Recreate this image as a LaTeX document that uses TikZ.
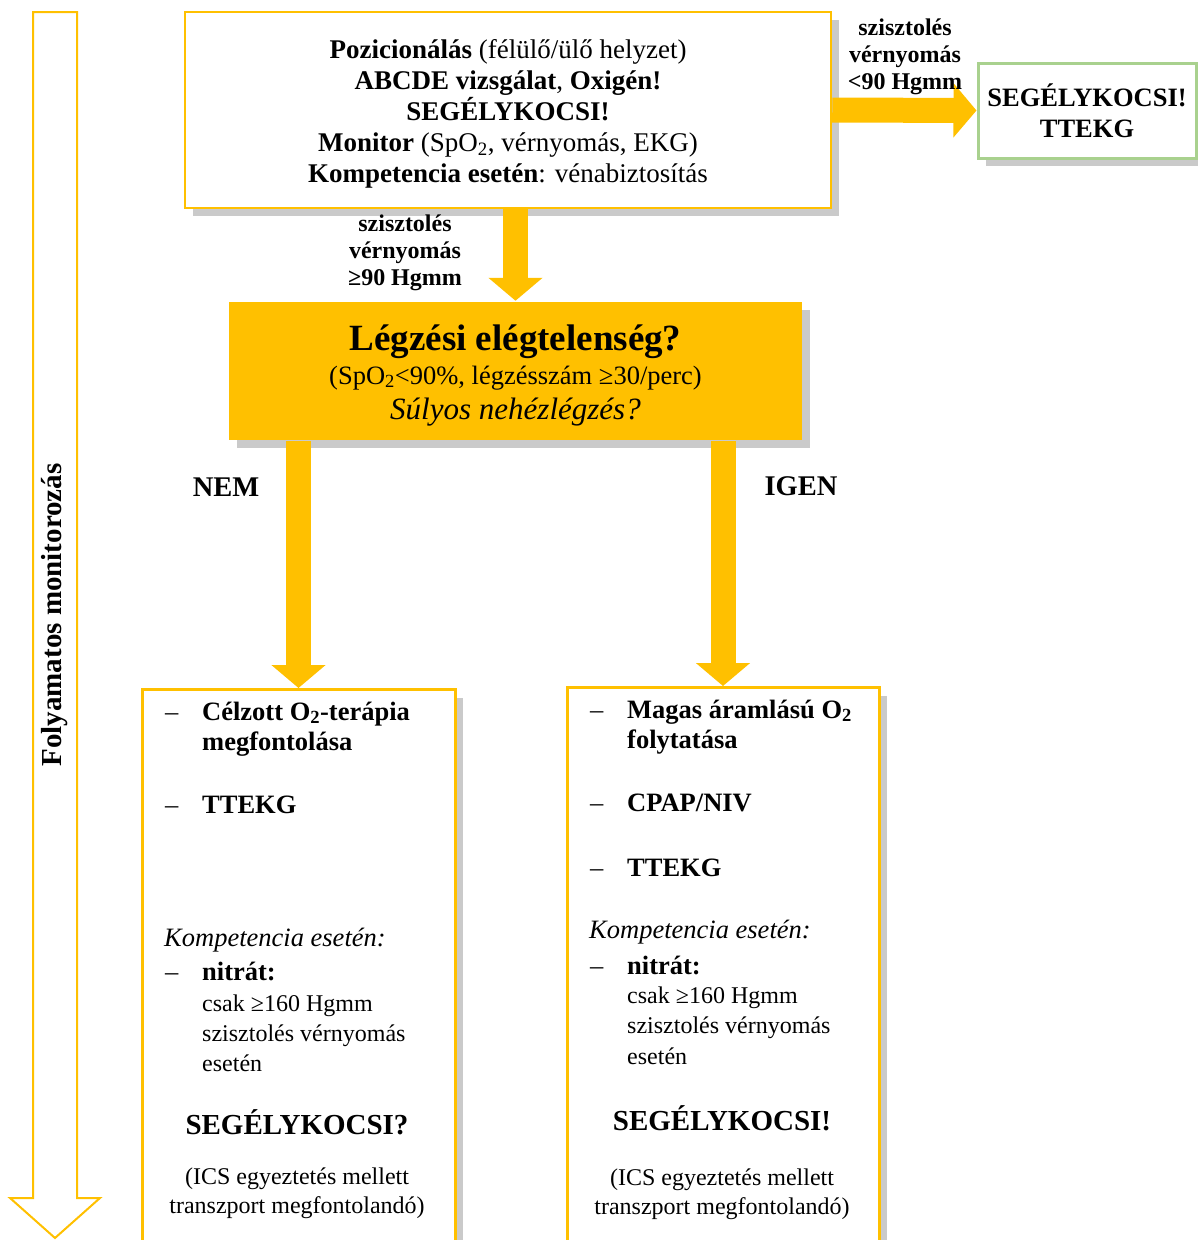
\documentclass[tikz,border=0pt]{standalone}
\usepackage{fontspec}
\setmainfont{Liberation Serif}
\usetikzlibrary{arrows.meta,positioning,shadows,calc}

\definecolor{sarga}{HTML}{FFC000}
\definecolor{zold}{HTML}{A9D18E}
\newcommand{\fs}[2]{\fontsize{#1}{#2}\selectfont}

\begin{document}
\begin{tikzpicture}[x=1pt,y=-1pt,
    doboz/.style={draw=sarga,line width=2.5pt,fill=white,inner sep=0pt,
      drop shadow={shadow xshift=8pt,shadow yshift=-8pt,fill=black!55,opacity=.38}},
    nyil/.style={draw=sarga,line width=25pt,-{Triangle[length=23pt,width=53pt]}},
    sor/.style={anchor=base west,inner sep=0pt},
    kozep/.style={anchor=base,inner sep=0pt},
    felirat/.style={align=center,font=\fs{24}{27}\bfseries}]

  \useasboundingbox (0,0) rectangle (1198,1240);

  % Folyamatos monitorozás
  \draw[sarga,line width=2pt,fill=white] (33,12) -- (77,12) -- (77,1198) -- (100,1198)
    -- (55,1238) -- (10,1198) -- (33,1198) -- cycle;
  \node[rotate=90,font=\fs{29}{31}\bfseries] (monitor) at (55,615) {Folyamatos monitorozás};

  % Első lépések
  \node[doboz,minimum width=646pt,minimum height=196pt] (elso) at (508,110) {};
  \node[align=center,font=\fs{27}{31}] (lepesek) at (508,114)
    {\textbf{Pozicionálás} (félülő/ülő helyzet)\\
     \textbf{ABCDE vizsgálat}, \textbf{Oxigén!}\\
     \textbf{SEGÉLYKOCSI!}\\
     \textbf{Monitor} (SpO\textsubscript{2}, vérnyomás, EKG)\\
     \textbf{Kompetencia esetén}: vénabiztosítás};

  \node[doboz,draw=zold,line width=3pt,minimum width=218pt,minimum height=95pt,align=center,
    font=\fs{26.5}{31}\bfseries] (mento) at (1087,110.5) {SEGÉLYKOCSI!\\TTEKG};

  % Légzési elégtelenség
  \node[doboz,draw=none,fill=sarga,minimum width=573pt,minimum height=138pt] (legzes) at (515.5,371) {};
  \node[kozep,font=\fs{37}{40}\bfseries] (cim) at (515.5,350) {Légzési elégtelenség?};
  \node[kozep,font=\fs{26.5}{30}] (kriterium) at (515.5,384) {(SpO\textsubscript{2}<90\%, légzésszám ≥30/perc)};
  \node[kozep,font=\fs{31}{32}\itshape] (nehez) at (515.5,419) {Súlyos nehézlégzés?};

  % Ágak
  \node[doboz,line width=3pt,minimum width=313pt,minimum height=640pt,anchor=north] (bal) at (298.5,688) {};
  \node[doboz,line width=3pt,minimum width=312pt,minimum height=640pt,anchor=north] (jobb) at (723,686) {};

  % Nyilak
  \draw[nyil] (legzes.north |- elso.south) -- (legzes.north);
  \draw[nyil] (elso.east) -- (mento.west);
  \draw[nyil] (bal.north |- legzes.south) -- (bal.north);
  \draw[nyil] (jobb.north |- legzes.south) -- (jobb.north);

  \node[felirat] (normal) at (405,253) {szisztolés\\vérnyomás\\≥90 Hgmm};
  \node[felirat] (alacsony) at (905,57) {szisztolés\\vérnyomás\\<90 Hgmm};
  \node[kozep,font=\fs{28.5}{30}\bfseries] (nem) at (226,496) {NEM};
  \node[kozep,font=\fs{28.5}{30}\bfseries] (igen) at (801,495) {IGEN};

  % NEM ág
  \foreach \y in {720,813,980} \node[sor,font=\fs{26.5}{30}] at (165,\y) {–};
  \node[sor,font=\fs{26.5}{30}\bfseries] (b1) at (202,720) {Célzott O\textsubscript{2}-terápia};
  \node[sor,font=\fs{26.5}{30}\bfseries] (b2) at (202,750) {megfontolása};
  \node[sor,font=\fs{26.5}{30}\bfseries] (b3) at (202,813) {TTEKG};
  \node[sor,font=\fs{26.5}{30}\itshape] (b4) at (164,946) {Kompetencia esetén:};
  \node[sor,font=\fs{26.5}{30}\bfseries] (b5) at (202,980) {nitrát:};
  \node[sor,font=\fs{24}{30}] (b6) at (202,1011) {csak ≥160 Hgmm};
  \node[sor,font=\fs{24}{30}] (b7) at (202,1041) {szisztolés vérnyomás};
  \node[sor,font=\fs{24}{30}] (b8) at (202,1071) {esetén};
  \node[kozep,font=\fs{29}{32}\bfseries] (b9) at (297,1134) {SEGÉLYKOCSI?};
  \node[kozep,font=\fs{24}{30}] (b10) at (297,1184) {(ICS egyeztetés mellett};
  \node[kozep,font=\fs{24}{30}] (b11) at (297,1213) {transzport megfontolandó)};

  % IGEN ág
  \foreach \y in {718,811,876,974} \node[sor,font=\fs{26.5}{30}] at (590,\y) {–};
  \node[sor,font=\fs{26.5}{30}\bfseries] (j1) at (627,718) {Magas áramlású O\textsubscript{2}};
  \node[sor,font=\fs{26.5}{30}\bfseries] (j2) at (627,748) {folytatása};
  \node[sor,font=\fs{26.5}{30}\bfseries] (j3) at (627,811) {CPAP/NIV};
  \node[sor,font=\fs{26.5}{30}\bfseries] (j4) at (627,876) {TTEKG};
  \node[sor,font=\fs{26.5}{30}\itshape] (j5) at (589,938) {Kompetencia esetén:};
  \node[sor,font=\fs{26.5}{30}\bfseries] (j6) at (627,974) {nitrát:};
  \node[sor,font=\fs{24}{30}] (j7) at (627,1003) {csak ≥160 Hgmm};
  \node[sor,font=\fs{24}{30}] (j8) at (627,1033) {szisztolés vérnyomás};
  \node[sor,font=\fs{24}{30}] (j9) at (627,1064) {esetén};
  \node[kozep,font=\fs{29}{32}\bfseries] (j10) at (722,1130) {SEGÉLYKOCSI!};
  \node[kozep,font=\fs{24}{30}] (j11) at (722,1185) {(ICS egyeztetés mellett};
  \node[kozep,font=\fs{24}{30}] (j12) at (722,1214) {transzport megfontolandó)};
\end{tikzpicture}
\end{document}
